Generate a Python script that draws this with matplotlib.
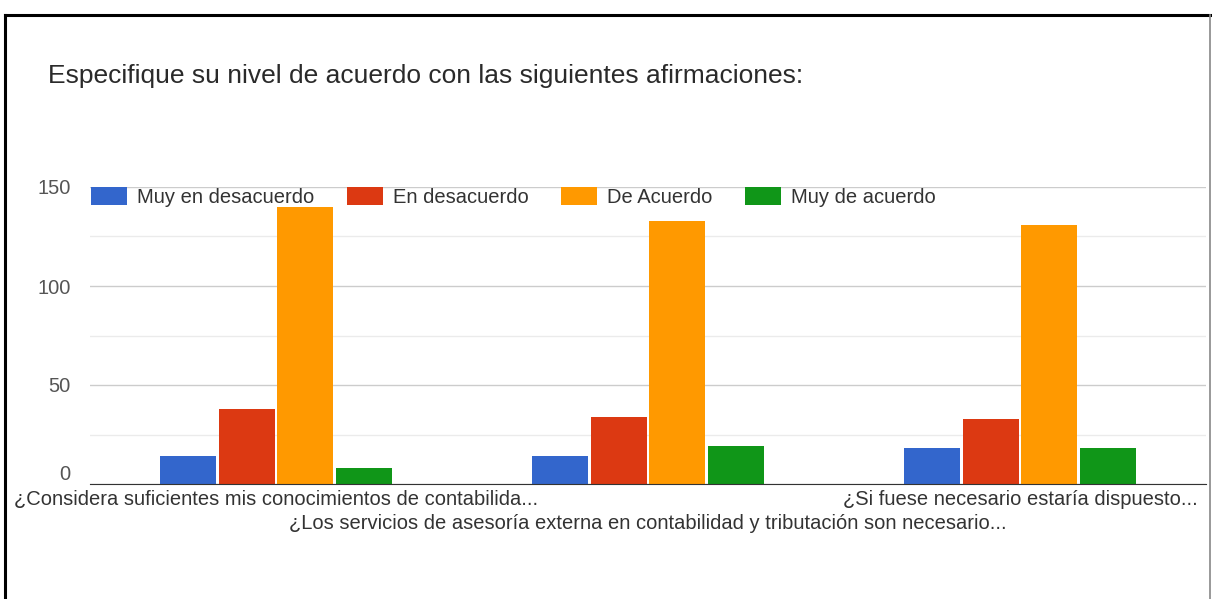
import numpy as np
import matplotlib.pyplot as plt
from matplotlib.lines import Line2D
from matplotlib.patches import Patch

# ── Survey data ───────────────────────────────────────────────────────────────
TITLE = "Especifique su nivel de acuerdo con las siguientes afirmaciones:"
QUESTIONS = [
    "¿Considera suficientes mis conocimientos de contabilida...",
    "¿Los servicios de asesoría externa en contabilidad y tributación son necesario...",
    "¿Si fuese necesario estaría dispuesto...",
]
LEVELS = ["Muy en desacuerdo", "En desacuerdo", "De Acuerdo", "Muy de acuerdo"]
muy_desacuerdo = [14, 14, 18]
desacuerdo     = [38, 34, 33]
de_acuerdo     = [140, 133, 131]
muy_acuerdo    = [8, 19, 18]
Y_TICKS = [0, 50, 100, 150]

COLORS = ["#3366CC", "#DC3912", "#FF9900", "#109618"]
FONT = "Liberation Sans"
LABEL_SIZE = 14.5

plt.rcParams["font.family"] = FONT

fig = plt.figure(figsize=(12.12, 5.99), dpi=100)
W, H = 1212, 599

def px(x, y):
    """pixel position -> figure fraction"""
    return x / W, 1 - y / H

left, top = px(90, 187)
right, bottom = px(1206, 484)
ax = fig.add_axes([left, bottom, right - left, top - bottom])

series = [muy_desacuerdo, desacuerdo, de_acuerdo, muy_acuerdo]
xs = np.arange(len(QUESTIONS))
step = 0.157
width = 0.150
for i, (vals, col) in enumerate(zip(series, COLORS)):
    ax.bar(xs + (i - 1.5) * step, vals, width=width, color=col, zorder=3)

ax.set_xlim(-0.5, len(QUESTIONS) - 0.5)
ax.set_ylim(0, 150)
ax.set_yticks(Y_TICKS)
ax.set_yticks([25, 75, 125], minor=True)
ax.grid(axis="y", which="major", color="#cccccc", linewidth=1.0, zorder=0)
ax.grid(axis="y", which="minor", color="#ebebeb", linewidth=1.0, zorder=0)
ax.tick_params(axis="y", which="both", length=0, pad=14, labelsize=LABEL_SIZE,
               labelcolor="#555555")
ax.tick_params(axis="x", length=0, pad=4, labelsize=LABEL_SIZE,
               labelcolor="#333333")
ax.set_xticks(xs)
ax.set_xticklabels(QUESTIONS)
# stagger the middle label onto a second row
ax.xaxis.get_major_ticks()[1].set_pad(21.5)
# the "0" label sits just above the first row of category labels
ax.get_yticklabels()[0].set_va("bottom")

for side in ["top", "right", "left"]:
    ax.spines[side].set_visible(False)
ax.spines["bottom"].set_color("#333333")
ax.spines["bottom"].set_zorder(4)

# legend across the top of the plot area
handles = [Patch(facecolor=c, edgecolor="none") for c in COLORS]
fig.legend(handles, LEVELS, loc="center left", bbox_to_anchor=px(91, 197),
           ncol=4, frameon=False, fontsize=LABEL_SIZE, handlelength=1.8,
           handleheight=0.95, handletextpad=0.5, columnspacing=1.6,
           labelcolor="#333333", borderpad=0, borderaxespad=0)

fig.text(*px(48, 76), TITLE, fontsize=19, color="#2a2a2a",
         ha="left", va="center")

# outer frame: black on top and left, grey on the right
fig.add_artist(Line2D([5 / W, 5 / W], [0, 1 - 15 / H], color="black",
                      linewidth=2.2, transform=fig.transFigure))
fig.add_artist(Line2D([5 / W, 1210 / W], [1 - 15 / H, 1 - 15 / H],
                      color="black", linewidth=2.2, transform=fig.transFigure))
fig.add_artist(Line2D([1210 / W, 1210 / W], [0, 1 - 15 / H], color="#888888",
                      linewidth=1.2, transform=fig.transFigure))

fig.savefig("out.png", dpi=100)
